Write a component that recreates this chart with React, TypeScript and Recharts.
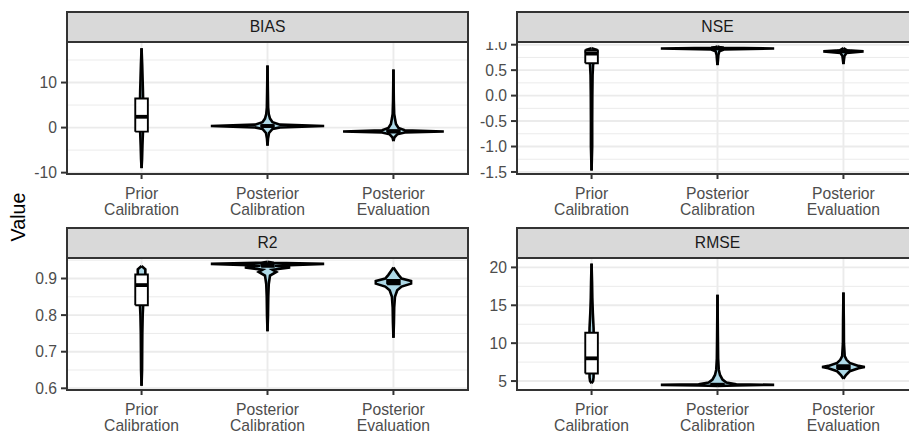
import { ComposedChart, Area, Line, XAxis, YAxis, CartesianGrid } from 'recharts';

const FONT = '"Liberation Sans", Arial, sans-serif';

const categories = ['Prior\nCalibration', 'Posterior\nCalibration', 'Posterior\nEvaluation'];

// violin outlines: [value, half width in category units]
const biasPrior: [number, number][] = [[-9.0, 0], [-7, 0.004], [-4, 0.007], [-1, 0.011], [2, 0.013], [5, 0.013], [8, 0.011], [11, 0.008], [14, 0.005], [17.6, 0]];
const biasPostCal: [number, number][] = [[-4.0, 0], [-2.5, 0.004], [-1.2, 0.012], [-0.3, 0.04], [0.05, 0.1], [0.35, 0.45], [0.65, 0.1], [1.2, 0.04], [2, 0.02], [3, 0.01], [4.5, 0.005], [8, 0.003], [13.8, 0]];
const biasPostEval: [number, number][] = [[-3.0, 0], [-2.2, 0.008], [-1.5, 0.03], [-1.1, 0.09], [-0.85, 0.4], [-0.6, 0.09], [-0.1, 0.04], [0.8, 0.02], [2, 0.012], [3, 0.006], [6, 0.003], [12.9, 0]];
const biasBoxes = [[-0.9, 2.4, 6.45], [0.15, 0.35, 0.55], [-1.05, -0.85, -0.6]];

const nsePrior: [number, number][] = [[-1.47, 0], [-1.0, 0.005], [-0.5, 0.005], [0, 0.006], [0.4, 0.008], [0.6, 0.012], [0.7, 0.02], [0.8, 0.035], [0.86, 0.045], [0.9, 0.04], [0.93, 0]];
const nsePostCal: [number, number][] = [[0.6, 0], [0.7, 0.004], [0.8, 0.007], [0.87, 0.015], [0.905, 0.05], [0.925, 0.45], [0.94, 0.05], [0.955, 0.015], [0.965, 0]];
const nsePostEval: [number, number][] = [[0.62, 0], [0.7, 0.004], [0.78, 0.008], [0.84, 0.025], [0.868, 0.16], [0.89, 0.03], [0.915, 0.01], [0.935, 0]];
const nseBoxes = [[0.635, 0.825, 0.885], [0.918, 0.926, 0.932], [0.858, 0.868, 0.877]];

const r2Prior: [number, number][] = [[0.607, 0], [0.65, 0.004], [0.7, 0.005], [0.75, 0.006], [0.8, 0.009], [0.83, 0.013], [0.86, 0.018], [0.89, 0.024], [0.91, 0.03], [0.925, 0.03], [0.934, 0]];
const r2PostCal: [number, number][] = [[0.756, 0], [0.8, 0.004], [0.85, 0.006], [0.885, 0.01], [0.908, 0.02], [0.918, 0.07], [0.924, 0.04], [0.93, 0.18], [0.935, 0.06], [0.94, 0.45], [0.943, 0.05], [0.946, 0]];
const r2PostEval: [number, number][] = [[0.738, 0], [0.78, 0.004], [0.82, 0.006], [0.85, 0.012], [0.868, 0.03], [0.878, 0.065], [0.886, 0.14], [0.893, 0.14], [0.9, 0.065], [0.91, 0.04], [0.92, 0.02], [0.93, 0]];
const r2Boxes = [[0.827, 0.882, 0.911], [0.932, 0.937, 0.941], [0.884, 0.89, 0.896]];

const rmsePrior: [number, number][] = [[4.7, 0], [5, 0.012], [5.5, 0.016], [6, 0.016], [8, 0.018], [10, 0.018], [12, 0.016], [14, 0.01], [16, 0.006], [18, 0.004], [20.5, 0]];
const rmsePostCal: [number, number][] = [[4.35, 0], [4.43, 0.15], [4.5, 0.45], [4.58, 0.15], [4.8, 0.07], [5.2, 0.04], [5.8, 0.02], [6.5, 0.01], [8, 0.005], [11, 0.003], [16.4, 0]];
const rmsePostEval: [number, number][] = [[5.3, 0], [5.8, 0.02], [6.3, 0.05], [6.7, 0.12], [6.85, 0.17], [7.0, 0.12], [7.4, 0.05], [7.8, 0.025], [8.3, 0.01], [10, 0.004], [13, 0.003], [16.7, 0]];
const rmseBoxes = [[6.0, 8.0, 11.37], [4.45, 4.52, 4.62], [6.6, 6.85, 7.1]];

const biasTicks = [-10, 0, 10];
const biasMinor = [-5, 5, 15];
const nseTicks = [-1.5, -1.0, -0.5, 0, 0.5, 1.0];
const nseMinor = [-1.25, -0.75, -0.25, 0.25, 0.75];
const r2Ticks = [0.6, 0.7, 0.8, 0.9];
const r2Minor = [0.65, 0.75, 0.85, 0.95];
const rmseTicks = [5, 10, 15, 20];
const rmseMinor = [7.5, 12.5, 17.5];

const PLOT_W = 403;
const PLOT_H = 132;
const Y_W = 66;
const X_H = 50;
const BOX_HALF = 0.05;

const panels = [
  { title: 'BIAS', left: 0, top: 42, domain: [-10.3, 19.0], ticks: biasTicks, minor: biasMinor, violins: [biasPrior, biasPostCal, biasPostEval], boxes: biasBoxes, fmt: (v: number) => String(v) },
  { title: 'NSE', left: 450, top: 42, domain: [-1.54, 1.053], ticks: nseTicks, minor: nseMinor, violins: [nsePrior, nsePostCal, nsePostEval], boxes: nseBoxes, fmt: (v: number) => v.toFixed(1) },
  { title: 'R2', left: 0, top: 258, domain: [0.5954, 0.956], ticks: r2Ticks, minor: r2Minor, violins: [r2Prior, r2PostCal, r2PostEval], boxes: r2Boxes, fmt: (v: number) => v.toFixed(1) },
  { title: 'RMSE', left: 450, top: 258, domain: [3.82, 21.24], ticks: rmseTicks, minor: rmseMinor, violins: [rmsePrior, rmsePostCal, rmsePostEval], boxes: rmseBoxes, fmt: (v: number) => String(v) },
];

const XTick = (props: any) => {
  const { x, y, payload } = props;
  const lines = categories[Math.round(payload.value) - 1].split('\n');
  return (
    <text x={x} y={y} textAnchor="middle" fill="#4D4D4D" fontSize={15.7} fontFamily={FONT}>
      {lines.map((l, i) => (
        <tspan key={i} x={x} dy={i === 0 ? 15.5 : 16}>{l}</tspan>
      ))}
    </text>
  );
};

function Panel({ p }: { p: (typeof panels)[number] }) {
  return (
    <>
      <div
        style={{
          position: 'absolute', left: p.left + Y_W, top: p.top - 31, width: PLOT_W, height: 32,
          boxSizing: 'border-box', background: '#D9D9D9', border: '2px solid #333333',
          textAlign: 'center', lineHeight: '28px', fontFamily: FONT, fontSize: 15.7, color: '#1A1A1A',
        }}
      >
        {p.title}
      </div>
      <div style={{ position: 'absolute', left: p.left, top: p.top }}>
        <ComposedChart layout="vertical" width={Y_W + PLOT_W} height={PLOT_H + X_H} margin={{ top: 0, right: 0, bottom: 0, left: 0 }}>
          <CartesianGrid horizontalValues={p.minor} vertical={false} stroke="#EBEBEB" strokeWidth={1} />
          <CartesianGrid horizontalValues={p.ticks} verticalValues={[1, 2, 3]} stroke="#EBEBEB" strokeWidth={1.9} />
          <XAxis
            type="number" domain={[0.4, 3.6]} ticks={[1, 2, 3]} allowDataOverflow height={X_H}
            axisLine={false} tickSize={5} tickMargin={4} tickLine={{ stroke: '#333333', strokeWidth: 2 }}
            tick={<XTick />} interval={0}
          />
          <YAxis
            type="number" dataKey="v" domain={p.domain} ticks={p.ticks} allowDataOverflow width={Y_W} reversed
            axisLine={false} tickSize={5} tickMargin={4} tickLine={{ stroke: '#333333', strokeWidth: 2 }}
            tick={{ fill: '#4D4D4D', fontSize: 15.7, fontFamily: FONT }} tickFormatter={p.fmt} interval={0}
          />
          {p.violins.map((shape, i) => (
            <Area
              key={'v' + i}
              data={shape.map(([v, hw]) => ({ v, x: [i + 1 - hw, i + 1 + hw] }))}
              dataKey="x" type="linear" fill="#ADD8E6" fillOpacity={1} stroke="#000000" strokeWidth={2.6}
              dot={false} activeDot={false} isAnimationActive={false}
            />
          ))}
          {p.boxes.map(([q1, , q3], i) => (
            <Area
              key={'bf' + i}
              data={[
                { v: q1, x: [i + 1 - BOX_HALF, i + 1 + BOX_HALF] },
                { v: q3, x: [i + 1 - BOX_HALF, i + 1 + BOX_HALF] },
              ]}
              dataKey="x" type="linear" fill="#FFFFFF" fillOpacity={1} stroke="none"
              dot={false} activeDot={false} isAnimationActive={false}
            />
          ))}
          {p.boxes.map(([q1, , q3], i) => (
            <Line
              key={'bo' + i}
              data={[
                { v: q1, x: i + 1 - BOX_HALF },
                { v: q3, x: i + 1 - BOX_HALF },
                { v: q3, x: i + 1 + BOX_HALF },
                { v: q1, x: i + 1 + BOX_HALF },
                { v: q1, x: i + 1 - BOX_HALF },
              ]}
              dataKey="x" type="linear" stroke="#000000" strokeWidth={1.9} strokeLinejoin="miter"
              dot={false} activeDot={false} isAnimationActive={false}
            />
          ))}
          {p.boxes.map(([, med], i) => (
            <Line
              key={'bm' + i}
              data={[
                { v: med, x: i + 1 - BOX_HALF },
                { v: med, x: i + 1 + BOX_HALF },
              ]}
              dataKey="x" type="linear" stroke="#000000" strokeWidth={3.8}
              dot={false} activeDot={false} isAnimationActive={false}
            />
          ))}
        </ComposedChart>
      </div>
      <div
        style={{
          position: 'absolute', left: p.left + Y_W, top: p.top - 1, width: PLOT_W, height: PLOT_H + 2,
          boxSizing: 'border-box', border: '2px solid #333333', pointerEvents: 'none',
        }}
      />
    </>
  );
}

export default function App() {
  return (
    <div style={{ position: 'absolute', left: 0, top: 0, width: 909, height: 433, overflow: 'hidden', background: '#FFFFFF' }}>
      {panels.map((p) => (
        <Panel key={p.title} p={p} />
      ))}
      <div
        style={{
          position: 'absolute', left: 17.5, top: 216.7, transform: 'translate(-50%, -50%) rotate(-90deg)',
          fontFamily: FONT, fontSize: 19.7, color: '#000000', whiteSpace: 'nowrap',
        }}
      >
        Value
      </div>
    </div>
  );
}
